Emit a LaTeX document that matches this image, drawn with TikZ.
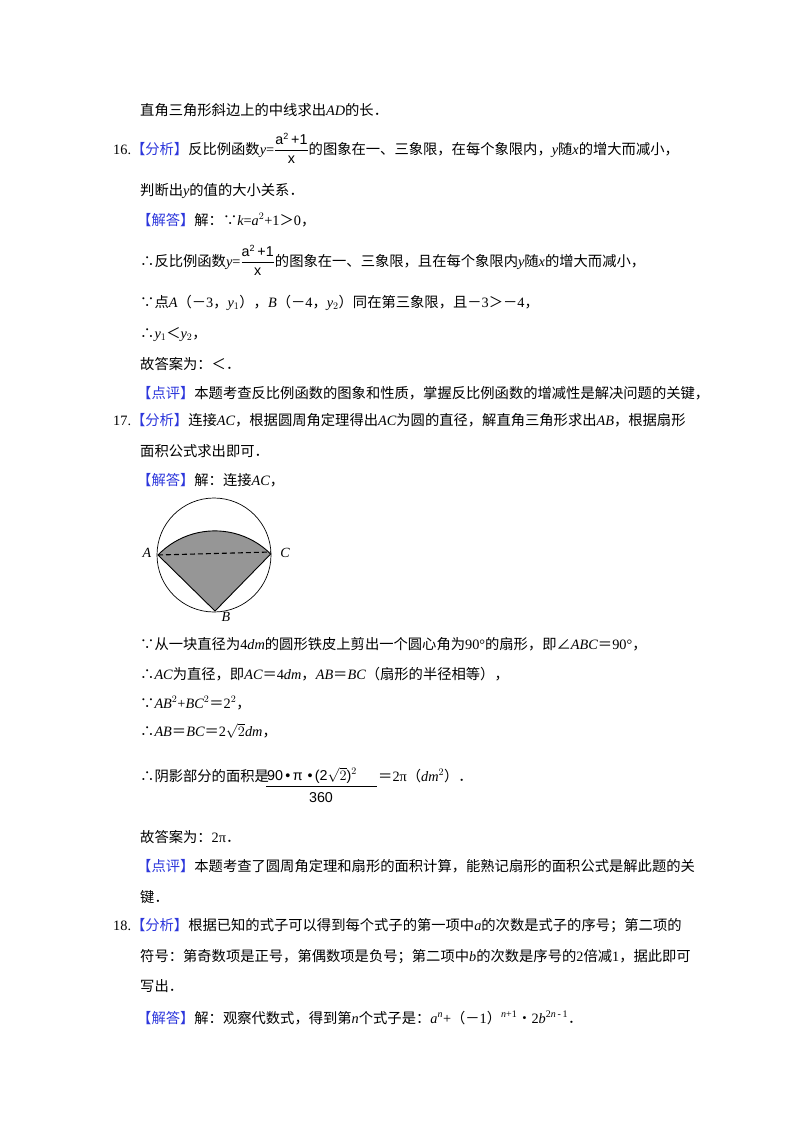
\documentclass[tikz,border=0pt]{standalone}
\usepackage{amsmath}
\usepackage{fontspec}
\setmainfont{Noto Sans CJK SC}
\newfontfamily\tmr{Liberation Serif}
\newfontfamily\hv{Liberation Sans}
\newcommand{\mi}[1]{{\tmr\itshape #1}}
\newcommand{\mr}[1]{{\tmr #1}}
\definecolor{hb}{RGB}{45,55,220}
\definecolor{sgray}{RGB}{150,150,150}
\newcommand{\bt}[1]{\textcolor{hb}{#1}}
\newcommand{\fr}{$\dfrac{\text{\hv a}^{\text{\hv\small 2}}\text{\hv\,+1}}{\text{\hv x}}$}
\begin{document}
\begin{tikzpicture}[x=1pt,y=-1pt,
  T/.style={anchor=base west,inner sep=0pt,font=\fontsize{14.3}{17}\selectfont},
  L/.style={anchor=base,inner sep=0pt,font=\fontsize{14}{16}\tmr\itshape}]
\useasboundingbox[fill=white] (0,0) rectangle (800,1132);
\node[T] (l1) at (140,115) {直角三角形斜边上的中线求出\mi{AD}的长．};
\node[T] (l2) at (113,154) {\mr{16.}\bt{【分析】}反比例函数\mi{y}\mr{=}\fr 的图象在一、三象限，在每个象限内，\mi{y}随\mi{x}的增大而减小，};
\node[T] (l3) at (140,195) {判断出\mi{y}的值的大小关系．};
\node[T] (l4) at (137,225) {\bt{【解答】}解：∵\mi{k}\mr{=}\mi{a}\mr{$^2$+1}＞\mr{0}，};
\node[T] (l5) at (140,266) {∴反比例函数\mi{y}\mr{=}\fr 的图象在一、三象限，且在每个象限内\mi{y}随\mi{x}的增大而减小，};
\node[T] (l6) at (140,307) {∵点\mi{A}（－\mr{3}，\mi{y}\mr{$_1$}），\mi{B}（－\mr{4}，\mi{y}\mr{$_2$}）同在第三象限，且－\mr{3}＞－\mr{4}，};
\node[T] (l7) at (140,338) {∴\mi{y}\mr{$_1$}＜\mi{y}\mr{$_2$}，};
\node[T] (l8) at (140,369) {故答案为：＜．};
\node[T] (l9) at (137,398) {\bt{【点评】}本题考查反比例函数的图象和性质，掌握反比例函数的增减性是解决问题的关键，};
\node[T] (l10) at (113,425) {\mr{17.}\bt{【分析】}连接\mi{AC}，根据圆周角定理得出\mi{AC}为圆的直径，解直角三角形求出\mi{AB}，根据扇形};
\node[T] (l11) at (140,456) {面积公式求出即可．};
\node[T] (l12) at (137,485) {\bt{【解答】}解：连接\mi{AC}，};
% figure
\coordinate (O) at (214,555);
\coordinate (A) at (158,555);
\coordinate (C) at (271,552);
\coordinate (B) at (215,611);
\fill[sgray] (B) -- (A) arc[start angle=-136,end angle=-45,radius=79] -- cycle;
\draw[line width=0.9pt] (B) -- (A) arc[start angle=-136,end angle=-45,radius=79] -- cycle;
\draw[line width=0.7pt] (O) circle[radius=57];
\draw[line width=1.1pt,dash pattern=on 5pt off 3pt] (A) -- (C);
\node[L] (la) at (147,557) {A};
\node[L] (lc) at (285,557) {C};
\node[L] (lb) at (226,621) {B};
\node[T] (l13) at (140,649) {∵从一块直径为\mr{4}\mi{dm}的圆形铁皮上剪出一个圆心角为\mr{90°}的扇形，即∠\mi{ABC}＝\mr{90°}，};
\node[T] (l14) at (140,679) {∴\mi{AC}为直径，即\mi{AC}＝\mr{4}\mi{dm}，\mi{AB}＝\mi{BC}（扇形的半径相等），};
\node[T] (l15) at (140,708) {∵\mi{AB}\mr{$^2$+}\mi{BC}\mr{$^2$}＝\mr{2$^2$}，};
\node[T] (l16) at (140,736) {∴\mi{AB}＝\mi{BC}＝\mr{2$\sqrt{2}$}\mi{dm}，};
\node[T] (l17) at (140,781) {∴阴影部分的面积是};
\node[T] (num) at (267,780) {\hv 90\,•\,π\,\,•\,(2$\sqrt{2}$)$^{2}$};
\coordinate (f1) at (266,786);
\coordinate (f2) at (377,786);
\draw[line width=0.8pt] (f1) -- (f2);
\node[T,anchor=base] (den) at (321,802) {\hv 360};
\node[T] (l18) at (378,781) {＝\mr{2π}（\mi{dm}\mr{$^2$}）．};
\node[T] (l19) at (140,842) {故答案为：\mr{2π}．};
\node[T] (l20) at (137,871) {\bt{【点评】}本题考查了圆周角定理和扇形的面积计算，能熟记扇形的面积公式是解此题的关};
\node[T] (l21) at (140,902) {键．};
\node[T] (l22) at (113,930) {\mr{18.}\bt{【分析】}根据已知的式子可以得到每个式子的第一项中\mi{a}的次数是式子的序号；第二项的};
\node[T] (l23) at (140,961) {符号：第奇数项是正号，第偶数项是负号；第二项中\mi{b}的次数是序号的\mr{2}倍减\mr{1}，据此即可};
\node[T] (l24) at (140,991) {写出．};
\node[T] (l25) at (137,1023) {\bt{【解答】}解：观察代数式，得到第\mi{n}个式子是：\mi{a}$^{\text{\mi{n}}}$\mr{+}（－\mr{1}）$^{\text{\mi{n}\mr{+1}}}$•\mr{2}\mi{b}$^{\text{\mr{2}\mi{n}\mr{\,-\,1}}}$．};
\end{tikzpicture}
\end{document}
